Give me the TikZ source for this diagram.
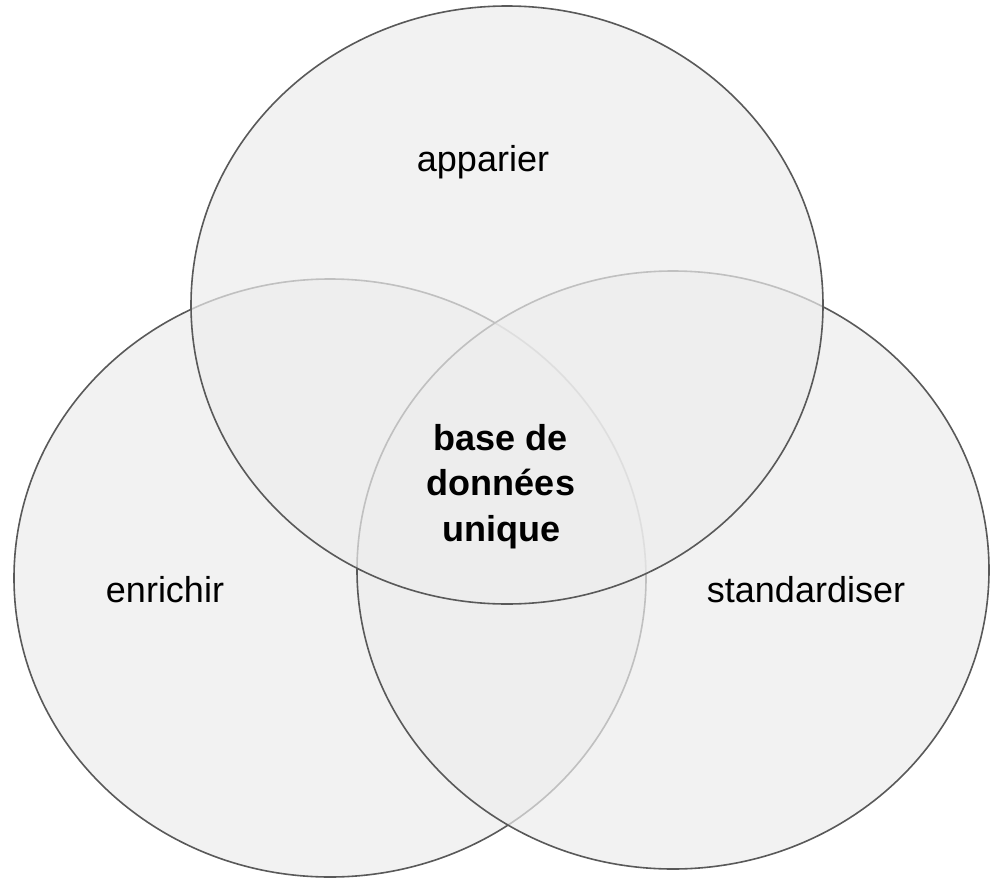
\documentclass[tikz,border=0pt]{standalone}
\usepackage{fontspec}
\setmainfont{Liberation Sans}
\definecolor{ringline}{RGB}{89,89,89}
\definecolor{ringfill}{RGB}{236,236,236}
\tikzset{
  ring/.style={draw=ringline, line width=1.6pt, fill=ringfill, fill opacity=0.7},
  label/.style={font=\fontsize{36}{43}\selectfont, text=black, inner sep=0pt, anchor=base},
  core/.style={font=\fontsize{36}{45.5}\selectfont\bfseries, text=black, inner sep=0pt, align=center, anchor=north}
}
\begin{document}
\begin{tikzpicture}[x=1pt,y=-1pt]
  \useasboundingbox (0,0) rectangle (996,881);
  % three overlapping sets, drawn left, right, then top
  \path[ring] (330,578) ellipse [x radius=316, y radius=299];
  \path[ring] (673,570) ellipse [x radius=316, y radius=299];
  \path[ring] (507,305) ellipse [x radius=316, y radius=299];
  % set names
  \node[label] (apparier) at (483,171) {apparier};
  \node[label] (enrichir) at (165,602) {enrichir};
  \node[label] (standardiser) at (806,602) {standardiser};
  % common core
  \node[core] (base) at (501,424) {base de\\données\\unique};
\end{tikzpicture}
\end{document}
